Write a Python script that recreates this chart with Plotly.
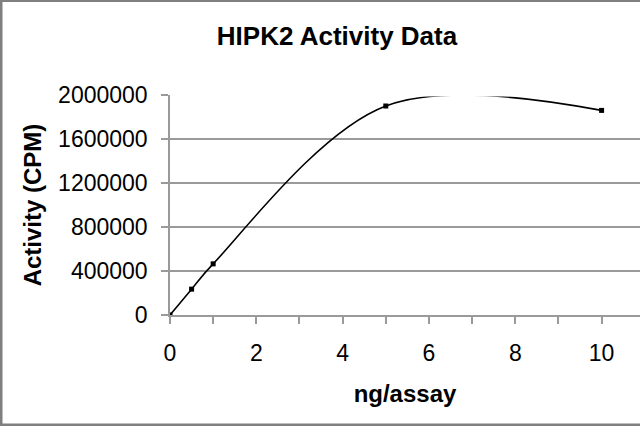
import plotly.graph_objects as go

# readings
dose_ng = [0, 0.5, 1, 5, 10]
activity_cpm = [0, 235000, 465000, 1900000, 1860000]

x_ticks = [0, 2, 4, 6, 8, 10]
y_ticks = [0, 400000, 800000, 1200000, 1600000, 2000000]

FONT = "Liberation Sans, Arial, sans-serif"
GREY = "#9a9a9a"

fig = go.Figure()

fig.add_trace(go.Scatter(
    x=dose_ng,
    y=activity_cpm,
    mode="lines+markers",
    line=dict(shape="spline", smoothing=1.0, color="black", width=1.6),
    marker=dict(symbol="square", size=5, color="black"),
    showlegend=False,
))

fig.update_layout(
    width=640,
    height=426,
    margin=dict(l=170, r=0, t=95, b=111),
    paper_bgcolor="white",
    plot_bgcolor="white",
    font=dict(family=FONT, size=23, color="black"),
    title=dict(
        text="<b>HIPK2 Activity Data</b>",
        x=337 / 640, xanchor="center",
        y=1 - 36 / 426, yanchor="middle",
        font=dict(size=26),
    ),
    xaxis=dict(
        range=[0, 10.89],
        tickvals=x_ticks,
        ticktext=[str(v) for v in x_ticks],
        ticks="outside", ticklen=7, tickcolor=GREY, tickwidth=1.5,
        minor=dict(dtick=1, ticks="outside", ticklen=7, tickcolor=GREY, tickwidth=1.5),
        showline=True, linecolor=GREY, linewidth=1.5,
        showgrid=False, zeroline=False,
        ticklabelstandoff=10,
        title=dict(text="<b>ng/assay</b>", standoff=20, font=dict(size=24)),
    ),
    yaxis=dict(
        range=[0, 2000000],
        tickvals=y_ticks,
        ticktext=[str(v) for v in y_ticks],
        ticks="outside", ticklen=7, tickcolor=GREY, tickwidth=1.5,
        showline=True, linecolor=GREY, linewidth=1.5,
        showgrid=True, gridcolor=GREY, gridwidth=1.5,
        zeroline=False,
        ticklabelstandoff=9,
        title=dict(text="<b>Activity (CPM)</b>", standoff=10, font=dict(size=24)),
    ),
)

# hide top gridline (reference has only the tick at 2000000)
fig.add_shape(type="line", xref="paper", yref="y", x0=0.004, x1=1.0,
              y0=2000000, y1=2000000, line=dict(color="white", width=3))

# frame of the original image (cropped on the right)
frame = dict(color="#7f7f7f", width=3)
fig.add_shape(type="line", xref="paper", yref="paper",
              x0=(1 - 170) / 470, x1=(1 - 170) / 470, y0=-0.51, y1=1.44, line=frame)
fig.add_shape(type="line", xref="paper", yref="paper",
              x0=-0.37, x1=1.05, y0=(315 - 0.5) / 220, y1=(315 - 0.5) / 220, line=frame)
fig.add_shape(type="line", xref="paper", yref="paper",
              x0=-0.37, x1=1.05, y0=(315 - 425) / 220, y1=(315 - 425) / 220, line=frame)

fig.write_html("out.html", config={"displayModeBar": False},
               post_script="document.body.style.margin='0';")
